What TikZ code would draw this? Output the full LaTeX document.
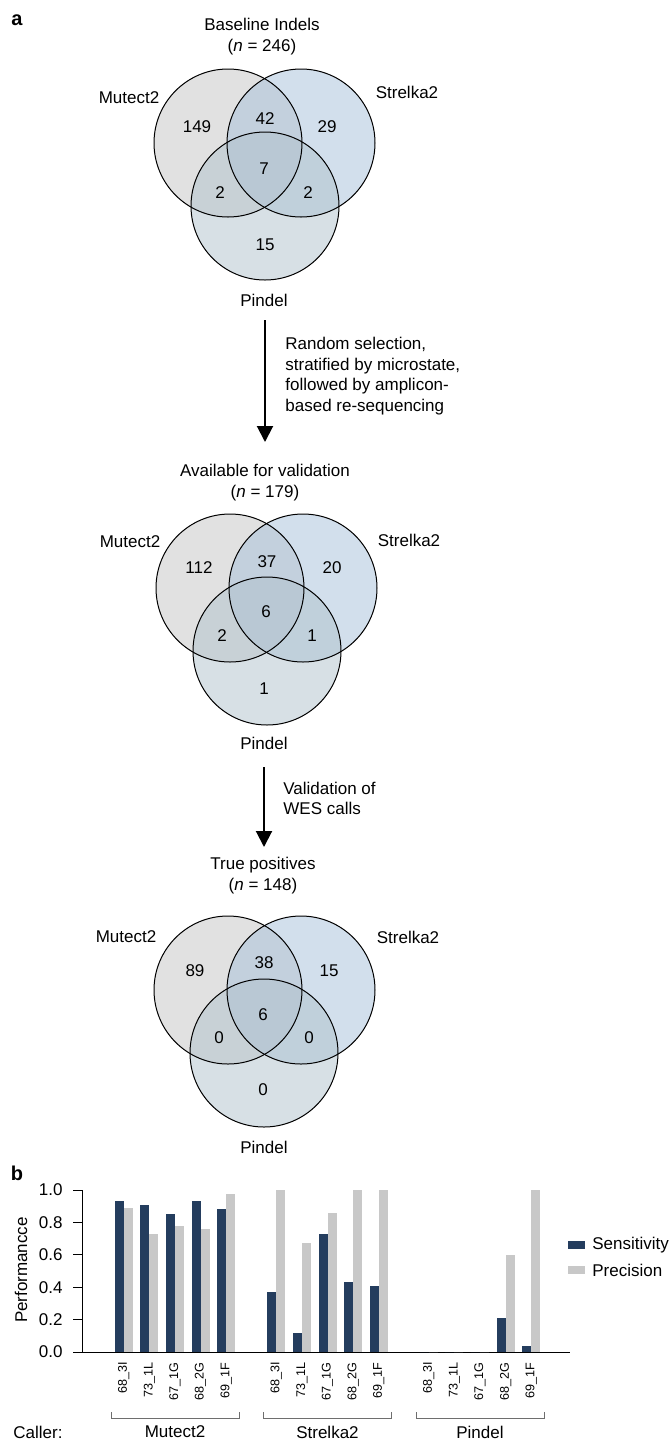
\documentclass[tikz,border=0pt]{standalone}
\usepackage{fontspec}
\setmainfont{Liberation Sans}
\usetikzlibrary{arrows.meta}
\definecolor{FigNavy}{RGB}{36,61,94}
\definecolor{FigBarGray}{RGB}{200,200,200}
\definecolor{FigBrace}{RGB}{110,110,110}
\definecolor{VennGray}{RGB}{196,196,196}
\definecolor{VennBlue}{RGB}{165,191,217}
\definecolor{VennTeal}{RGB}{175,193,203}
\tikzset{
  fig/set/.style={
    circle,
    minimum size=74pt,
    inner sep=0pt,
    outer sep=0pt,
    fill opacity=0.5
  },
  fig/ring/.style={draw=black, line width=0.5pt},
  fig/text/.style={font=\fontsize{8.5}{10.35}\selectfont, inner sep=0pt},
  fig/title/.style={fig/text, align=center},
  fig/note/.style={fig/text, align=left, anchor=west},
  fig/arrow/.style={-{Triangle[width=8pt,length=8pt]}, line width=1pt, draw=black},
  fig/panel/.style={font=\bfseries\fontsize{10}{12}\selectfont, inner sep=0pt},
  bar/axis/.style={line width=0.5pt, draw=black},
  bar/sens/.style={fill=FigNavy},
  bar/prec/.style={fill=FigBarGray},
  bar/tick/.style={font=\fontsize{6.3}{7.5}\selectfont, rotate=90, anchor=east, inner sep=0pt},
  bar/ylab/.style={fig/text, anchor=east, inner sep=1.5pt},
  bar/brace/.style={draw=FigBrace, line width=0.5pt},
  bar/swatch/.style={minimum width=8.5pt, minimum height=4pt, inner sep=0pt}
}

\begin{document}
\begin{tikzpicture}[x=0.5pt,y=-0.5pt]
  \useasboundingbox (0,0) rectangle (670,1441);
  \node[fig/panel] (panel-a) at (17,20) {a};
  \node[fig/panel] (panel-b) at (17,1173) {b};

  % three venn diagrams
  \foreach \v/\mx/\my/\sx/\sy/\px/\py in {A/228/143/301/143/265/206,B/230/588/303/588/267/651,C/228/990/301/990/264/1053}
  {
    \node[fig/set,fill=VennGray] (\v-mut) at (\mx,\my) {};
    \node[fig/set,fill=VennBlue] (\v-str) at (\sx,\sy) {};
    \node[fig/set,fill=VennTeal] (\v-pin) at (\px,\py) {};
    \foreach \s in {mut,str,pin} {\draw[fig/ring] (\v-\s.center) circle[radius=37pt];}
  }
  \node[fig/title] (A-title) at (262,36.5) {Baseline Indels\\(\textit{n} = 246)};
  \node[fig/title] (B-title) at (265,482.5) {Available for validation\\(\textit{n} = 179)};
  \node[fig/title] (C-title) at (263,875.5) {True positives\\(\textit{n} = 148)};
  \foreach \v/\mx/\my/\sx/\sy/\py in {A/129/98/407/92/300,B/130/542/409/540/743,C/126/937/408/937/1147}
  {
    \node[fig/text] (\v-mutlbl) at (\mx,\my) {Mutect2};
    \node[fig/text] (\v-strlbl) at (\sx,\sy) {Strelka2};
    \node[fig/text] (\v-pinlbl) at (264,\py) {Pindel};
  }
  \foreach \txt/\x/\y [count=\i] in {
    149/197/127,42/265/119,29/327/127,7/264/169,2/220/193,2/308/193,15/265/245,
    112/199/568,37/267/562,20/332/568,6/266/612,2/222/636,1/312/636,1/264/689,
    89/195/971,38/264/963,15/329/971,6/263/1015,0/219/1038,0/309/1038,0/263/1090}
  {\node[fig/text] (count\i) at (\x,\y) {\txt};}

  % steps between the diagrams
  \coordinate (stepA-top) at (265,320);
  \coordinate (stepA-tip) at (265,442);
  \draw[fig/arrow] (stepA-top) -- (stepA-tip);
  \node[fig/note] (stepA-note) at (285,376) {Random selection,\\stratified by microstate,\\followed by amplicon-\\based re-sequencing};
  \coordinate (stepB-top) at (264,767);
  \coordinate (stepB-tip) at (264,847);
  \draw[fig/arrow] (stepB-top) -- (stepB-tip);
  \node[fig/note] (stepB-note) at (283,798.5) {Validation of\\WES calls};

  % bar chart
  \draw[bar/axis] (73,1352) -- (570,1352);
  \draw[bar/axis] (82,1190) -- (82,1352);
  \foreach \t/\lab in {0/0.0,1/0.2,2/0.4,3/0.6,4/0.8,5/1.0}
  {
    \draw[bar/axis] (73,1352-\t*32.4) -- (82,1352-\t*32.4);
    \node[bar/ylab] (ytick\t) at (66,1352-\t*32.4) {\lab};
  }
  \node[fig/text,rotate=90] (ylabel) at (21,1270) {Performancce};
  \foreach \x/\s/\p/\id [count=\i] in {
    123.8/0.93/0.89/68\_3I,149.4/0.91/0.73/73\_1L,175/0.85/0.78/67\_1G,200.6/0.93/0.76/68\_2G,226.2/0.88/0.975/69\_1F,
    276.3/0.37/1.0/68\_3I,301.9/0.12/0.67/73\_1L,327.5/0.73/0.86/67\_1G,353.1/0.43/1.0/68\_2G,378.7/0.41/1.0/69\_1F,
    428.8/0/0/68\_3I,454.4/0/0/73\_1L,480/0/0/67\_1G,505.6/0.21/0.60/68\_2G,531.2/0.04/1.0/69\_1F}
  {
    \fill[bar/sens] (\x-9,1352) rectangle (\x,1352-162*\s);
    \fill[bar/prec] (\x,1352) rectangle (\x+9,1352-162*\p);
    \node[bar/tick] (sample\i) at (\x,1362) {\id};
  }
  \node[fig/text,anchor=west] (caller) at (13,1432) {Caller:};
  \foreach \g/\name [count=\j] in {175/Mutect2,327.5/Strelka2,480/Pindel}
  {
    \draw[bar/brace] (\g-64,1412) -- (\g-64,1418) -- (\g+64,1418) -- (\g+64,1412);
    \node[fig/text] (group\j) at (\g,1432) {\name};
  }
  \node[bar/swatch,fill=FigNavy] (key-sens) at (576.5,1245) {};
  \node[fig/text,anchor=west] (key-senslbl) at (592,1245) {Sensitivity};
  \node[bar/swatch,fill=FigBarGray] (key-prec) at (576.5,1270) {};
  \node[fig/text,anchor=west] (key-preclbl) at (592,1270) {Precision};
\end{tikzpicture}
\end{document}
